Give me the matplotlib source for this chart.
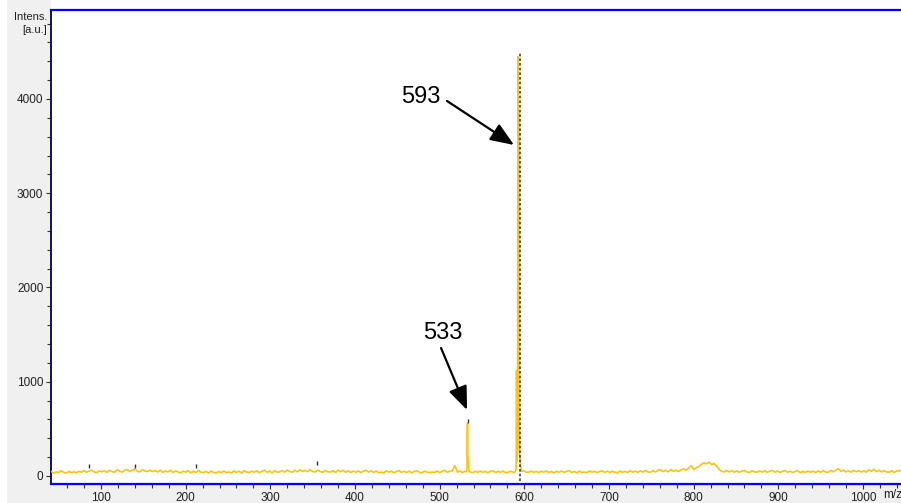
import numpy as np
import matplotlib
matplotlib.use("Agg")
import matplotlib.pyplot as plt
from matplotlib.patches import Rectangle
from matplotlib.ticker import MultipleLocator
from matplotlib import font_manager

# ---------------- data ----------------
# baseline intensities, sampled every 3 m/z starting at m/z 41
base_start = 41
base_step = 3
base_int = [
    48, 30, 44, 36, 56, 38, 30, 50, 36, 45,
    34, 50, 40, 58, 40, 52, 62, 42, 36, 55,
    44, 58, 38, 62, 46, 40, 66, 50, 42, 60,
    68, 46, 62, 72, 50, 44, 66, 52, 47, 62,
    46, 58, 42, 62, 38, 54, 43, 60, 37, 54,
    42, 34, 52, 40, 56, 33, 50, 37, 60, 40,
    36, 50, 32, 53, 38, 30, 49, 35, 52, 37,
    42, 33, 54, 38, 51, 31, 58, 42, 36, 52,
    40, 56, 34, 50, 60, 38, 53, 32, 57, 40,
    44, 58, 41, 63, 46, 40, 61, 44, 66, 49,
    60, 45, 68, 47, 42, 62, 46, 40, 58, 44,
    42, 56, 38, 62, 45, 60, 41, 55, 37, 52,
    40, 54, 36, 51, 61, 41, 56, 38, 53, 35,
    42, 33, 55, 40, 52, 34, 48, 57, 38, 51,
    36, 52, 32, 49, 56, 39, 33, 53, 40, 36,
    42, 38, 54, 35, 51, 60, 39, 52, 56, 110,
    40, 53, 37, 50, 58, 42, 36, 51, 39, 54,
    38, 51, 33, 49, 55, 36, 50, 39, 53, 34,
    40, 52, 37, 64, 46, 43, 56, 41, 38, 53,
    38, 50, 35, 52, 40, 55, 36, 49, 33, 51,
    39, 53, 37, 50, 57, 36, 49, 33, 52, 38,
    42, 36, 54, 39, 51, 34, 49, 55, 38, 52,
    37, 51, 40, 33, 53, 39, 50, 36, 57, 41,
    52, 38, 55, 41, 60, 43, 39, 57, 42, 63,
    66, 46, 61, 44, 69, 49, 63, 47, 65, 75,
    62, 82, 110, 70, 88, 100, 124, 140, 128, 148,
    122, 132, 108, 70, 50, 42, 58, 44, 56, 41,
    54, 39, 52, 59, 42, 37, 56, 43, 40, 54,
    41, 57, 38, 52, 60, 40, 53, 37, 51, 56,
    39, 52, 36, 50, 55, 35, 49, 38, 53, 40,
    51, 37, 54, 40, 57, 42, 38, 59, 44, 64,
    76, 48, 62, 43, 55, 40, 60, 45, 57, 42,
    54, 41, 66, 50, 72, 46, 61, 44, 57, 42,
    40, 55, 38, 52, 59, 42,
]

# peak at m/z 533
pk533_mz = [531.6, 532.3, 532.8, 533.1, 533.5, 534.0, 534.6, 535.4]
pk533_int = [45, 90, 560, 230, 200, 120, 60, 48]

# main peak cluster at m/z 593
pk593_mz = [589.4, 590.3, 590.8, 591.3, 592.0, 592.4, 592.8, 593.2,
            593.7, 594.3, 595.0, 595.8, 596.8]
pk593_int = [45, 80, 1120, 150, 300, 4450, 1500, 3880,
             600, 220, 180, 90, 50]

# peak-picking marks
mark_mz = [86, 140, 212, 355, 533]
mark_int = [105, 105, 105, 135, 585]

# labelled peaks: label, text position, arrow start, arrow tip
labels = ["593", "533"]
label_pos = [(477.9, 4016), (503.3, 1512)]
arrow_start = [(508.6, 3979), (501.6, 1358)]
arrow_tip = [(587.8, 3512), (532.3, 700)]

ref_line_mz = 595
ref_line_top = 4500

x_ticks = [100, 200, 300, 400, 500, 600, 700, 800, 900, 1000]
y_ticks = [0, 1000, 2000, 3000, 4000]

# ---------------- build spectrum ----------------
base_mz = base_start + base_step * np.arange(len(base_int))
base_int_a = np.array(base_int, dtype=float)
keep = np.ones(len(base_mz), dtype=bool)
for grp in (pk533_mz, pk593_mz):
    keep &= ~((base_mz >= min(grp)) & (base_mz <= max(grp)))
mz = np.concatenate([base_mz[keep], pk533_mz, pk593_mz])
inten = np.concatenate([base_int_a[keep], pk533_int, pk593_int])
order = np.argsort(mz)
mz, inten = mz[order], inten[order]

# ---------------- fonts ----------------
avail = {f.name for f in font_manager.fontManager.ttflist}
tick_font = "Liberation Sans" if "Liberation Sans" in avail else "DejaVu Sans"
if "Liberation Sans Narrow" in avail:
    label_font, label_size = "Liberation Sans Narrow", 19
else:
    label_font, label_size = tick_font, 17

# ---------------- figure ----------------
W, H = 901, 503
fig = plt.figure(figsize=(W / 100, H / 100), dpi=100, facecolor="white")

# grey frame (left column and bottom strip)
fig.patches.append(Rectangle((7 / W, 0), 1 - 7 / W, 1, transform=fig.transFigure,
                             facecolor="#f0f0f0", edgecolor="none", zorder=-2))
fig.patches.append(Rectangle((51 / W, (H - 10) / H), 1, 10 / H, transform=fig.transFigure,
                             facecolor="white", edgecolor="none", zorder=-1))

ax_left, ax_right = 51 / W, 1.0
ax_bottom, ax_top = (H - 484) / H, (H - 10) / H
ax = fig.add_axes([ax_left, ax_bottom, ax_right - ax_left, ax_top - ax_bottom])
ax.set_facecolor("white")

ax.plot(mz, inten, color="#FFC20E", lw=1.2, zorder=3)
ax.plot([ref_line_mz, ref_line_mz], [-200, ref_line_top], color="#404050",
        lw=1.2, ls=(0, (1.6, 1.2)), zorder=4)
ax.plot(mark_mz, mark_int, ls="none", marker="|", markersize=3,
        color="#303040", mew=1.0, zorder=4)

for lab, pos, s, t in zip(labels, label_pos, arrow_start, arrow_tip):
    ax.text(pos[0], pos[1], lab, ha="center", va="center",
            fontsize=label_size, family=label_font, color="black", zorder=6)
    ax.annotate("", xy=t, xytext=s,
                arrowprops=dict(arrowstyle="-|>,head_length=0.8,head_width=0.32",
                                color="black", lw=1.6, mutation_scale=18,
                                shrinkA=0, shrinkB=0), zorder=6)

ax.set_xlim(40.9, 1044.9)
ax.set_ylim(-85, 4944)

ax.xaxis.set_major_locator(MultipleLocator(100))
ax.xaxis.set_minor_locator(MultipleLocator(20))
ax.yaxis.set_major_locator(MultipleLocator(1000))
ax.yaxis.set_minor_locator(MultipleLocator(200))
ax.set_xticks(x_ticks)
ax.set_yticks(y_ticks)
ax.set_xticklabels([str(v) for v in x_ticks])
ax.set_yticklabels([str(v) for v in y_ticks])

for side in ("top", "bottom"):
    ax.spines[side].set_color("#0000FF")
    ax.spines[side].set_linewidth(1.6)
ax.spines["left"].set_color("#000050")
ax.spines["left"].set_linewidth(1.3)
ax.spines["right"].set_visible(False)

ax.tick_params(axis="both", which="both", direction="out", color="#303030",
               labelsize=8.5, labelcolor="#202020", width=0.8)
ax.tick_params(axis="both", which="major", length=3.5, pad=2)
ax.tick_params(axis="both", which="minor", length=3)
for lbl in ax.get_xticklabels() + ax.get_yticklabels():
    lbl.set_family(tick_font)

fig.text(47 / W, 1 - 17 / H, "Intens.", ha="right", va="center",
         fontsize=8, family=tick_font, color="#202020")
fig.text(47 / W, 1 - 30 / H, "[a.u.]", ha="right", va="center",
         fontsize=8, family=tick_font, color="#202020")
fig.text(883 / W, 1 - 495 / H, "m/z", ha="left", va="center",
         fontsize=8.5, family=tick_font, color="#202020")

fig.savefig("out.png", dpi=100, facecolor=fig.get_facecolor())
